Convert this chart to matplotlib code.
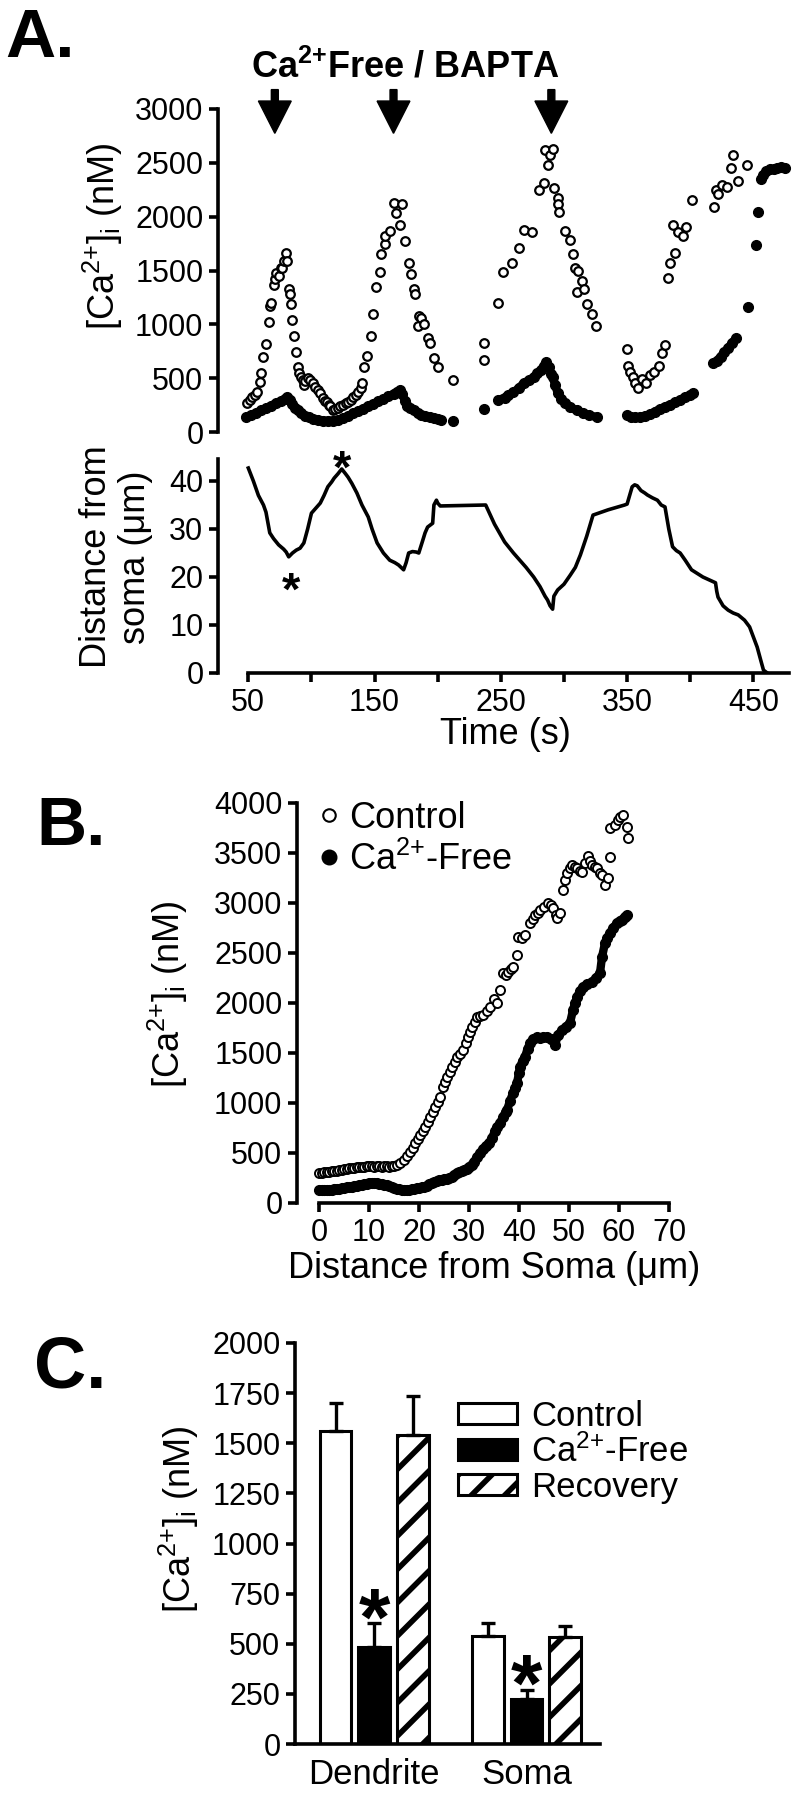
import matplotlib
matplotlib.use('Agg')
import matplotlib.pyplot as plt
from matplotlib.lines import Line2D
from matplotlib.patches import Patch

plt.rcParams['font.family'] = ['Liberation Sans', 'DejaVu Sans']
plt.rcParams['mathtext.fontset'] = 'custom'
plt.rcParams['mathtext.rm'] = 'Liberation Sans'
plt.rcParams['mathtext.it'] = 'Liberation Sans:italic'
plt.rcParams['mathtext.bf'] = 'Liberation Sans:bold'
plt.rcParams['hatch.linewidth'] = 4.0

# ---------------- data ----------------
# A (top): open circles, [Ca2+]i vs time
a_open_t = [49, 51, 53, 55, 57, 59, 60, 62, 64, 66, 67, 68, 70, 71, 72, 74, 76, 77, 78, 80,
            81, 82, 83, 84, 85, 86, 88, 89, 90, 92, 93, 94, 95, 97, 99, 101, 103, 105, 107,
            109, 111, 112, 114, 115, 117, 119, 121, 123, 125, 127, 129, 131, 133, 135, 137,
            139, 140, 142, 144, 147, 149, 151, 154, 155, 158, 158, 162, 165, 167, 170, 172,
            174, 177, 179, 181, 182, 184, 185, 187, 189, 192, 194, 197, 200, 212,
            237, 237, 248, 252, 259, 264, 268, 275, 280, 284, 285, 287, 289, 291, 292, 295,
            295, 296, 301, 305, 307, 309, 310, 311, 314, 316, 318, 322, 325,
            350, 351, 352, 355, 356, 359, 362, 365, 368, 371, 375, 378, 380, 382, 384, 386,
            388, 390, 394, 397, 401, 419, 420, 422, 425, 429, 432, 434, 438, 445]
a_open_v = [268, 300, 324, 345, 370, 462, 545, 693, 813, 1026, 1174, 1202, 1368, 1423, 1479,
            1451, 1525, 1525, 1590, 1663, 1590, 1331, 1285, 1192, 1044, 887, 739, 600, 545,
            510, 480, 434, 470, 499, 480, 453, 420, 388, 360, 314, 290, 277, 250, 240, 203,
            215, 222, 240, 250, 265, 277, 300, 324, 345, 370, 410, 453, 600, 702, 887, 1100,
            1350, 1488, 1654, 1747, 1821, 1867, 2126, 2033, 1922, 2116, 1774, 1571, 1469,
            1331, 1285, 989, 1081, 1063, 1007, 869, 823, 684, 600, 481,
            823, 665, 1201, 1488, 1571, 1710, 1876, 1858, 2246, 2311, 2616, 2477, 2569, 2625,
            2264, 2172, 2116, 2042, 1867, 1784, 1654, 1525, 1303, 1497, 1405, 1331, 1192,
            1100, 989,
            767, 610, 555, 508, 453, 407, 490, 453, 527, 555, 610, 730, 804, 1432, 1571, 1922,
            1663, 1858, 1821, 1904, 2153, 2089, 2246, 2209, 2292, 2274, 2449, 2569, 2329, 2477]

# A (top): filled circles, [Ca2+]i vs time (None = break in the trace)
a_fill_t = [48, 52, 56, 60, 64, 68, 72, 76, 79, 81, 83, 85, 87, 89, 92, 95, 98, 101, 105, 109,
            113, 117, 121, 125, 129, 133, 137, 141, 145, 149, 153, 157, 161, 165, 168, 170, 172,
            174, 176, 178, 181, 184, 187, 190, 194, 197, 200, 203, None, 212, None, 237, None,
            248, 253, 256, 260, 264, 268, 272, 276, 279, 282, 284, 286, 288, 290, 291, 293,
            295, 298, 301, 305, 310, 315, 320, 326, None,
            350, 353, 356, 360, 364, 368, 372, 376, 380, 384, 388, 392, 396, 400, 402, None,
            418, 421, 424, 427, 430, 433, 436, None,
            446, None, 452, None, 454, None, 456, 458, 460, 463, 466, 469, 472, 475]
a_fill_v = [139, 158, 176, 200, 222, 245, 268, 290, 310, 324, 300, 260, 225, 203, 175, 150, 135,
            122, 111, 106, 104, 106, 115, 129, 150, 172, 195, 218, 240, 262, 285, 305, 330, 355,
            375, 388, 350, 290, 245, 220, 200, 176, 160, 145, 135, 129, 120, 111, None, 102,
            None, 212, None,
            296, 320, 345, 370, 405, 453, 480, 510, 545, 580, 615, 647, 600, 540, 508, 440,
            360, 310, 270, 231, 200, 176, 155, 139, None,
            157, 140, 135, 139, 150, 165, 190, 215, 235, 255, 275, 300, 325, 345, 360, None,
            640, 660, 700, 740, 780, 825, 869, None,
            1164, None, 1737, None, 2042, None, 2350, 2390, 2420, 2440, 2440, 2449, 2460, 2450]

# A (bottom): distance from soma vs time
dist_t = [50, 54, 58, 62, 64, 67, 70, 74, 78, 80, 82, 85, 88, 91, 94, 97, 100, 104, 107, 110,
          113, 116, 118, 121, 124, 127, 129, 132, 136, 140, 145, 148, 152, 157, 162, 166, 169,
          173, 175, 177, 180, 183, 185, 188, 190, 192, 196, 197, 199, 200, 202, 220, 238, 245,
          253, 260, 270, 276, 281, 285, 287, 289, 291, 292, 295, 300, 305, 309, 313, 318, 323,
          335, 348, 350, 352, 354, 356, 358, 361, 364, 366, 370, 374, 377, 380, 383, 386, 389,
          392, 396, 401, 410, 420, 421, 422, 426, 430, 434, 438, 443, 447, 450, 453, 456, 458, 461]
dist_v = [42.7, 40, 37, 35, 33.5, 29.2, 28, 26.7, 25.8, 25.2, 24.2, 25, 25.6, 26, 27.1, 30,
          33.3, 34.5, 35.4, 37, 38.8, 39.8, 40.6, 41.5, 42.5, 41.5, 40.8, 39.5, 37.5, 35, 32.5,
          30, 27.1, 25, 23.5, 23, 22.5, 21.5, 23, 25, 25.3, 25.2, 25, 27.5, 29.2, 30.4, 31.2,
          35, 36, 35.4, 34.8, 34.9, 35, 31, 27.3, 25, 22, 20, 18, 16, 15.2, 14, 13.3, 16, 17.3,
          18.5, 20.4, 22, 24.6, 28.5, 32.9, 34, 35, 35.2, 37, 38.8, 39.2, 39, 38, 37.5, 37.1,
          36.5, 36, 35, 34.6, 30, 26.3, 25.5, 25, 23.5, 21.5, 20, 18.8, 17, 15.8, 14, 13.1,
          12.5, 12.1, 11, 9.6, 7.5, 5.4, 2.5, 0.6, 0]
arrow_times = [71, 165, 290]
star_a = [(84, 20), (124, 45.5)]

# B: [Ca2+]i vs distance from soma
b_ctrl_d = [0, 0.5, 1, 1.5, 2, 2.5, 3, 3.5, 4, 4.5, 5, 5.5, 6, 6.5, 7, 7.5, 8, 8.5, 9, 9.5,
            10, 10.5, 11, 11.5, 12, 12.5, 13, 13.5, 14, 14.5, 15, 15.6, 16.2, 16.9, 17.5, 18.2,
            18.7, 19.2, 19.7, 20.2, 20.7, 21.2, 21.7, 22.2, 22.7, 23.2, 23.7, 24.2, 24.8, 25.2,
            25.6, 26.1, 26.6, 27.1, 27.6, 28.2, 28.8, 29.3, 29.8, 30.2, 30.6, 31.1, 31.6, 32.2,
            32.8, 33.5, 34.2, 35.0, 35.6, 36.2, 36.8, 37.3, 37.8, 38.3, 38.8, 39.6, 39.8, 40.5,
            41.2, 42.2, 42.7, 43.2, 43.7, 44.2, 45, 45.8, 46.3, 46.8, 47.3, 47.6, 48.2, 48.8,
            49.2, 49.6, 50.1, 50.6, 51.1, 51.6, 52.1, 52.6, 53.2, 53.8, 54.2, 54.6, 55.1, 55.6,
            56.1, 56.6, 57.2, 57.8, 58.2, 58.2, 59.2, 59.8, 60.2, 60.8, 61.6, 61.8]
b_ctrl_v = [300, 305, 310, 310, 315, 320, 320, 325, 330, 335, 340, 345, 350, 350, 355, 360,
            360, 365, 365, 370, 370, 370, 365, 370, 370, 365, 370, 370, 365, 370, 375, 380, 400,
            430, 470, 510, 555, 600, 640, 680, 720, 760, 810, 860, 910, 960, 1010, 1060, 1160,
            1210, 1260, 1310, 1360, 1410, 1460, 1490, 1530, 1600, 1660, 1710, 1760, 1810, 1860,
            1870, 1880, 1920, 1960, 2040, 2000, 2130, 2300, 2280, 2310, 2340, 2360, 2480, 2660,
            2650, 2680, 2800, 2840, 2880, 2900, 2930, 2960, 3000, 2980, 2950, 2880, 2850, 2900,
            3130, 3230, 3300, 3350, 3380, 3360, 3350, 3320, 3310, 3400, 3470, 3420, 3380, 3360,
            3350, 3300, 3280, 3180, 3250, 3460, 3750, 3780, 3830, 3860, 3880, 3760, 3650]
b_free_d = [0, 0.5, 1, 1.5, 2, 2.5, 3, 3.5, 4, 4.5, 5, 5.5, 6, 6.5, 7, 7.5, 8, 8.5, 9, 9.5,
            10, 10.5, 11, 11.5, 12, 12.5, 13, 13.5, 14, 14.5, 15, 15.5, 16, 16.5, 17, 17.5, 18,
            18.5, 19, 19.5, 20, 20.5, 21, 21.5, 22, 22.5, 23, 23.5, 24, 24.5, 25, 25.5, 26, 26.5,
            27, 27.5, 28, 28.5, 29, 29.5, 30, 30.5, 31, 31.6, 32.2, 32.8, 33.4, 34, 34.6, 35.2,
            35.6, 36.2, 36.8, 37.3, 37.6, 38.2, 38.8, 39.2, 39.6, 40, 40.2, 40.7, 41.2, 41.7,
            42.2, 42.8, 43.6, 44.2, 44.8, 45.6, 46.4, 47.2, 47.8, 48.6, 49.3, 50.2, 50.8, 51.2,
            51.6, 52.2, 52.8, 53.6, 54.6, 55.4, 56.2, 56.6, 57.2, 57.6, 58.2, 58.8, 59.6, 60.1,
            60.6, 61.1, 61.6]
b_free_v = [130, 130, 128, 130, 132, 135, 138, 140, 145, 150, 155, 158, 160, 165, 170, 175,
            180, 185, 190, 195, 200, 200, 200, 198, 195, 190, 185, 180, 170, 160, 150, 145, 140,
            135, 130, 132, 135, 140, 145, 150, 155, 158, 160, 175, 190, 200, 210, 220, 230, 235,
            240, 245, 250, 260, 280, 300, 310, 320, 330, 345, 360, 380, 410, 460, 500, 540, 570,
            600, 650, 720, 760, 800, 860, 910, 930, 1020, 1100, 1150, 1200, 1300, 1360, 1420,
            1460, 1540, 1600, 1640, 1660, 1650, 1660, 1660, 1640, 1580, 1680, 1730, 1760, 1800,
            1930, 2000, 2060, 2120, 2160, 2190, 2210, 2250, 2300, 2460, 2600, 2650, 2700, 2750,
            2800, 2820, 2830, 2860, 2880]

# C: mean [Ca2+]i with SEM
c_groups = ['Dendrite', 'Soma']
c_conditions = ['Control', 'Ca$^{2{+}}$-Free', 'Recovery']
c_means = [[1559, 538], [483, 224], [1539, 533]]
c_errs = [[144, 65], [120, 45], [199, 55]]
c_star_y = [693, 363]   # asterisks above the Ca-free bars

# ---------------- figure ----------------
W, H = 799, 1800
fig = plt.figure(figsize=(W / 100, H / 100), dpi=100)


def px_axes(left, top, right, bottom):
    return fig.add_axes([left / W, 1 - bottom / H, (right - left) / W, (bottom - top) / H])


def ftext(x, y, s, **kw):
    return fig.text(x / W, 1 - y / H, s, **kw)


def style(ax):
    for s in ['top', 'right']:
        ax.spines[s].set_visible(False)
    for s in ['left', 'bottom']:
        ax.spines[s].set_linewidth(2.6)
    ax.tick_params(which='both', direction='out', width=2.6, length=6.5,
                   labelsize=22, pad=4)


def star(ax, x, y, fs, shift=0):
    ax.annotate('*', xy=(x, y), xytext=(0, -0.59 * fs - shift), textcoords='offset points',
                ha='center', va='baseline', fontsize=fs, fontweight='bold',
                annotation_clip=False)


ca_label = '[Ca$^{2{+}}$]$_{\\rm i}$ (nM)'

# ---- A top ----
axA1 = px_axes(218, 109, 790, 432)
style(axA1)
axA1.spines['bottom'].set_visible(False)
axA1.tick_params(axis='x', which='both', bottom=False, labelbottom=False)
axA1.plot(a_fill_t, a_fill_v, '-', color='k', lw=6, solid_capstyle='round', clip_on=False)
axA1.plot(a_fill_t, a_fill_v, 'o', ms=7, mfc='k', mec='k', clip_on=False)
axA1.plot(a_open_t, a_open_v, 'o', ms=6.2, mfc='white', mec='k', mew=1.6, clip_on=False)
axA1.set_xlim(26, 479)
axA1.set_ylim(0, 3000)
axA1.set_yticks(range(0, 3001, 500))
for t in arrow_times:
    axA1.arrow(t, 3180, 0, -406, width=5.5, head_width=26, head_length=300,
               length_includes_head=True, color='k', clip_on=False)
ftext(103, 236, ca_label, rotation=90, ha='center', va='center', fontsize=26)

# ---- A bottom ----
axA2 = px_axes(218, 457, 790, 673)
style(axA2)
axA2.plot(dist_t, dist_v, '-', color='k', lw=2.6)
axA2.set_xlim(26, 479)
axA2.set_ylim(0, 45)
axA2.spines['left'].set_bounds(0, 44.5)
axA2.spines['bottom'].set_bounds(50, 478)
axA2.set_yticks(range(0, 41, 10))
axA2.set_xticks([50, 150, 250, 350, 450])
axA2.set_xticks([100, 200, 300, 400], minor=True)
for x, y in star_a:
    star(axA2, x, y, 34)
ftext(116, 557, 'Distance from\nsoma (\u03bcm)', rotation=90, ha='center', va='center',
      fontsize=26, multialignment='center', linespacing=1.15)
ftext(505, 735, 'Time (s)', ha='center', va='center', fontsize=26)

ftext(5, 57, 'A.', fontsize=50, fontweight='bold', va='baseline')
ftext(405, 78, 'Ca$^{\\mathbf{2{+}}}$Free / BAPTA', ha='center', va='baseline',
      fontsize=26, fontweight='bold')

# ---- B ----
axB = px_axes(297, 803, 672, 1203)
style(axB)
axB.plot(b_free_d, b_free_v, '-', color='k', lw=6, solid_capstyle='round', clip_on=False)
axB.plot(b_free_d, b_free_v, 'o', ms=7, mfc='k', mec='k', clip_on=False)
axB.plot(b_ctrl_d, b_ctrl_v, 'o', ms=6.5, mfc='white', mec='k', mew=1.4, clip_on=False)
axB.set_xlim(-4.4, 70.6)
axB.set_ylim(0, 4000)
axB.spines['bottom'].set_bounds(0, 70)
axB.set_xticks(range(0, 71, 10))
axB.set_yticks(range(0, 4001, 500))
hB = [Line2D([], [], ls='', marker='o', ms=9, mfc='white', mec='k', mew=1.5),
      Line2D([], [], ls='', marker='o', ms=10.5, mfc='k', mec='k')]
axB.legend(hB, ['Control', 'Ca$^{2{+}}$-Free'], loc='upper left',
           bbox_to_anchor=(318 / W, 1 - 801 / H), bbox_transform=fig.transFigure,
           frameon=False, fontsize=26, handlelength=0.6, handletextpad=0.25,
           borderpad=0, borderaxespad=0, labelspacing=0.15)
ftext(168, 994, ca_label, rotation=90, ha='center', va='center', fontsize=26)
ftext(494, 1268, 'Distance from Soma (\u03bcm)', ha='center', va='center', fontsize=26)
ftext(36, 845, 'B.', fontsize=50, fontweight='bold', va='baseline')

# ---- C ----
axC = px_axes(295, 1343, 600, 1744)
style(axC)
group_x = [0, 3.95]
fills = ['white', 'black', 'white']
hatches = [None, None, '/']
for k in range(3):
    xs = [g + k for g in group_x]
    axC.bar(xs, c_means[k], width=0.82, color=fills[k], edgecolor='k', linewidth=2.2,
            hatch=hatches[k], yerr=[[0, 0], c_errs[k]],
            error_kw=dict(ecolor='k', elinewidth=2.4, capsize=5, capthick=2.4), zorder=2)
for g, ys in zip(group_x, c_star_y):
    star(axC, g + 1, ys, 58, shift=-6)
axC.set_xlim(-1.05, 6.85)
axC.set_ylim(0, 2000)
axC.set_yticks(range(0, 2001, 250))
axC.set_xticks([g + 1 for g in group_x])
axC.set_xticklabels(c_groups, fontsize=25)
axC.tick_params(axis='x', length=0, pad=10)
hC = [Patch(fc='white', ec='k', lw=2.2), Patch(fc='black', ec='k', lw=2.2),
      Patch(fc='white', ec='k', lw=2.2, hatch='/')]
axC.legend(hC, c_conditions, loc='upper left',
           bbox_to_anchor=(458 / W, 1 - 1400 / H), bbox_transform=fig.transFigure,
           frameon=False, fontsize=25, handlelength=1.7, handleheight=0.55,
           handletextpad=0.4, borderpad=0, borderaxespad=0, labelspacing=0.05)
ftext(179, 1519, ca_label, rotation=90, ha='center', va='center', fontsize=26)
ftext(34, 1388, 'C.', fontsize=52, fontweight='bold', va='baseline')

fig.savefig('out.png', dpi=100)
